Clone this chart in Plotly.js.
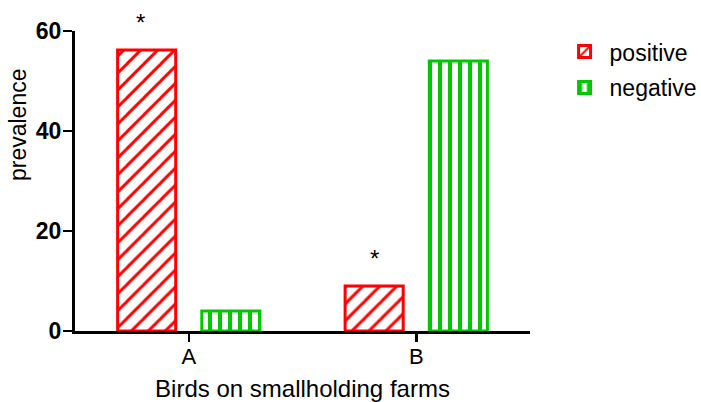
<!DOCTYPE html>
<html>
<head>
<meta charset="utf-8">
<script src="https://cdn.plot.ly/plotly-3.0.1.min.js"></script>
<style>html,body{margin:0;padding:0;background:#fff;}#chart{width:701px;height:402px;}</style>
</head>
<body>
<div id="chart"></div>
<script>
const categories = ['A', 'B'];
const positive = [56.2, 9];
const negative = [4, 54];
const seriesNames = ['positive', 'negative'];
const significance = ['*', '*'];
const yTicks = [0, 20, 40, 60];

const FONT = 'Arial, Liberation Sans, sans-serif';
const RED = '#ff0000';
const GREEN = '#00c800';

const traces = [
  {
    type: 'bar', name: seriesNames[0], x: categories, y: positive, legendgroup: 'p',
    marker: {color: '#ffffff', line: {color: RED, width: 3},
      pattern: {shape: '/', fgcolor: RED, bgcolor: '#ffffff', size: 12, solidity: 0.25}}
  },
  {
    type: 'bar', name: seriesNames[1], x: categories, y: negative, legendgroup: 'n',
    marker: {color: '#ffffff', line: {color: GREEN, width: 3},
      pattern: {shape: '|', fgcolor: GREEN, bgcolor: '#ffffff', size: 10, solidity: 0.4}}
  }
];

const annotations = categories.map((c, i) => ({
  x: i - 0.185, y: positive[i], xref: 'x', yref: 'y', text: significance[i],
  showarrow: false, yshift: 28, xshift: i === 0 ? -6 : 0, font: {family: FONT, size: 24, color: '#000'}
}));
annotations.push({
  xref: 'paper', yref: 'paper', x: -0.125, y: 0.687, text: 'prevalence', textangle: -90,
  showarrow: false, xanchor: 'center', yanchor: 'middle',
  font: {family: FONT, size: 23, color: '#000'}
});

const layout = {
  width: 701, height: 402,
  margin: {l: 75, r: 171, t: 31, b: 71, autoexpand: false},
  paper_bgcolor: '#fff', plot_bgcolor: '#fff',
  barmode: 'group', bargap: 0.26, bargroupgap: 0.31,
  showlegend: true,
  legend: {x: 1.065, y: 1.003, xanchor: 'left', yanchor: 'top',
    font: {family: FONT, size: 23, color: '#000'}, itemwidth: 40, tracegroupgap: 3},
  xaxis: {
    range: [-0.5, 1.5], showline: true, linecolor: '#000', linewidth: 3,
    ticks: 'outside', ticklen: 8, tickwidth: 2.5, tickcolor: '#000',
    showgrid: false, zeroline: false, ticklabelstandoff: -4,
    tickfont: {family: FONT, size: 22, color: '#000'},
    title: {text: 'Birds on smallholding farms', font: {family: FONT, size: 24, color: '#000'}, standoff: 12}
  },
  yaxis: {
    range: [0, 60], tickvals: yTicks, ticktext: yTicks.map(v => '<b>' + v + '</b>'),
    showline: true, linecolor: '#000', linewidth: 3,
    ticks: 'outside', ticklen: 9, tickwidth: 2.5, tickcolor: '#000',
    showgrid: false, zeroline: false, ticklabelstandoff: -3,
    tickfont: {family: FONT, size: 23, color: '#000'}
  },
  annotations: annotations
};

Plotly.newPlot('chart', traces, layout, {displayModeBar: false, staticPlot: true});
</script>
</body>
</html>
